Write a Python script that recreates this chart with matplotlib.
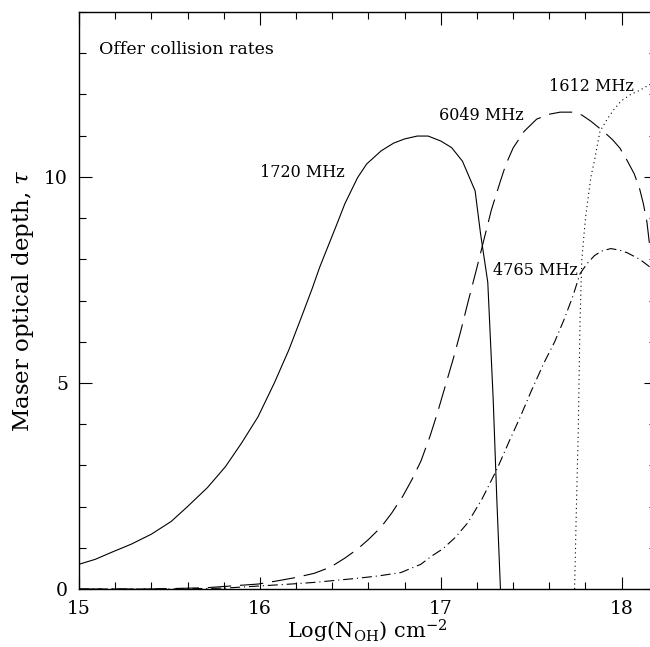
import numpy as np
import matplotlib
matplotlib.use('Agg')
import matplotlib.pyplot as plt
from matplotlib.ticker import MultipleLocator

# 1720 MHz (solid)
x_1720 = [15.0, 15.09, 15.18, 15.29, 15.40, 15.51, 15.60, 15.71, 15.81, 15.90, 15.99,
          16.08, 16.16, 16.23, 16.29, 16.33, 16.38, 16.43, 16.47, 16.54,
          16.59, 16.67, 16.74, 16.80, 16.87, 16.93, 17.0, 17.06, 17.12, 17.19, 17.22,
          17.26, 17.29, 17.31, 17.33]
y_1720 = [0.60, 0.72, 0.89, 1.09, 1.33, 1.64, 2.0, 2.46, 2.97, 3.55, 4.18,
          5.0, 5.8, 6.6, 7.3, 7.8, 8.35, 8.9, 9.35, 9.98,
          10.31, 10.63, 10.82, 10.92, 10.99, 10.99, 10.87, 10.71, 10.38, 9.66, 8.62,
          7.44, 4.59, 2.17, 0.0]

# 6049 MHz (dashed)
x_6049 = [15.0, 15.4, 15.7, 15.99, 16.1, 16.2, 16.3, 16.39, 16.47, 16.54, 16.6,
          16.67, 16.73, 16.79, 16.84, 16.89, 16.94, 16.98, 17.02, 17.07, 17.11,
          17.15, 17.2, 17.24, 17.28, 17.33, 17.36, 17.40, 17.46, 17.53, 17.6,
          17.66, 17.73, 17.78, 17.83, 17.90, 17.95, 17.99, 18.03, 18.07, 18.1,
          18.12, 18.14, 18.16, 18.19]
y_6049 = [0.0, 0.0, 0.03, 0.12, 0.2, 0.28, 0.38, 0.53, 0.75, 0.97, 1.2,
          1.5, 1.85, 2.25, 2.65, 3.1, 3.7, 4.25, 4.85, 5.6, 6.25,
          6.95, 7.8, 8.5, 9.2, 9.9, 10.3, 10.7, 11.1, 11.4, 11.52,
          11.57, 11.57, 11.5, 11.35, 11.1, 10.9, 10.7, 10.4, 10.07, 9.7,
          9.35, 8.9, 8.14, 7.5]

# 4765 MHz (dash-dot)
x_4765 = [15.0, 15.5, 15.8, 16.17, 16.3, 16.54, 16.66, 16.78, 16.89, 16.95, 17.01,
          17.08, 17.15, 17.23, 17.31, 17.38, 17.44, 17.5, 17.57, 17.63, 17.68,
          17.73, 17.77, 17.81, 17.85, 17.89, 17.94, 17.99, 18.03, 18.1, 18.16, 18.19]
y_4765 = [0.0, 0.0, 0.02, 0.12, 0.16, 0.26, 0.32, 0.4, 0.6, 0.8, 0.97,
          1.25, 1.61, 2.2, 2.9, 3.6, 4.18, 4.8, 5.48, 6.0, 6.52,
          7.1, 7.65, 7.9, 8.09, 8.2, 8.26, 8.22, 8.16, 8.0, 7.8, 7.7]

# 1612 MHz (dotted)
x_1612 = [17.74, 17.75, 17.76, 17.77, 17.78, 17.80, 17.83, 17.85, 17.88, 17.92,
          17.96, 18.0, 18.05, 18.1, 18.16, 18.19]
y_1612 = [0.0, 2.0, 3.8, 6.5, 8.0, 9.0, 10.0, 10.4, 11.1, 11.4,
          11.65, 11.85, 12.0, 12.1, 12.25, 12.3]

plt.rcParams['font.family'] = ['DejaVu Serif']
plt.rcParams['mathtext.fontset'] = 'dejavuserif'

fig = plt.figure(figsize=(6.5, 6.47), dpi=100)
# right edge of the frame sits just past the image edge, as in the reference
ax = fig.add_axes([79 / 650, 1 - 589 / 647, (656 - 79) / 650, (589 - 12) / 647])

lw = 0.8
ax.plot(x_1720, y_1720, color='black', lw=lw, ls='-')
ax.plot(x_6049, y_6049, color='black', lw=lw, ls=(0, (21, 8)))
ax.plot(x_4765, y_4765, color='black', lw=lw, ls=(0, (9, 3.5, 1, 3.5)))
ax.plot(x_1612, y_1612, color='black', lw=lw, ls=(0, (1, 3)))

ax.set_xlim(15, 18.19)
ax.set_ylim(0, 14)
ax.xaxis.set_major_locator(MultipleLocator(1))
ax.xaxis.set_minor_locator(MultipleLocator(0.2))
ax.yaxis.set_major_locator(MultipleLocator(5))
ax.yaxis.set_minor_locator(MultipleLocator(1))
ax.tick_params(which='both', direction='in', top=True, right=True, width=0.8,
               labelsize=13.5, pad=8)
ax.tick_params(which='major', length=9)
ax.tick_params(which='minor', length=5)
for s in ax.spines.values():
    s.set_linewidth(1.0)

ax.set_xlabel(r'Log(N$_{\rm OH}$) cm$^{-2}$', fontsize=15, labelpad=0)
ax.set_ylabel(r'Maser optical depth, $\tau$', fontsize=16.5, labelpad=6)

fs = 11.5
ax.text(15.11, 13.1, 'Offer collision rates', fontsize=12.5, va='center', ha='left')
ax.text(16.0, 10.1, '1720 MHz', fontsize=fs, va='center', ha='left')
ax.text(16.99, 11.5, '6049 MHz', fontsize=fs, va='center', ha='left')
ax.text(17.60, 12.2, '1612 MHz', fontsize=fs, va='center', ha='left')
ax.text(17.29, 7.73, '4765 MHz', fontsize=fs, va='center', ha='left')

fig.savefig('out.png', dpi=100)
